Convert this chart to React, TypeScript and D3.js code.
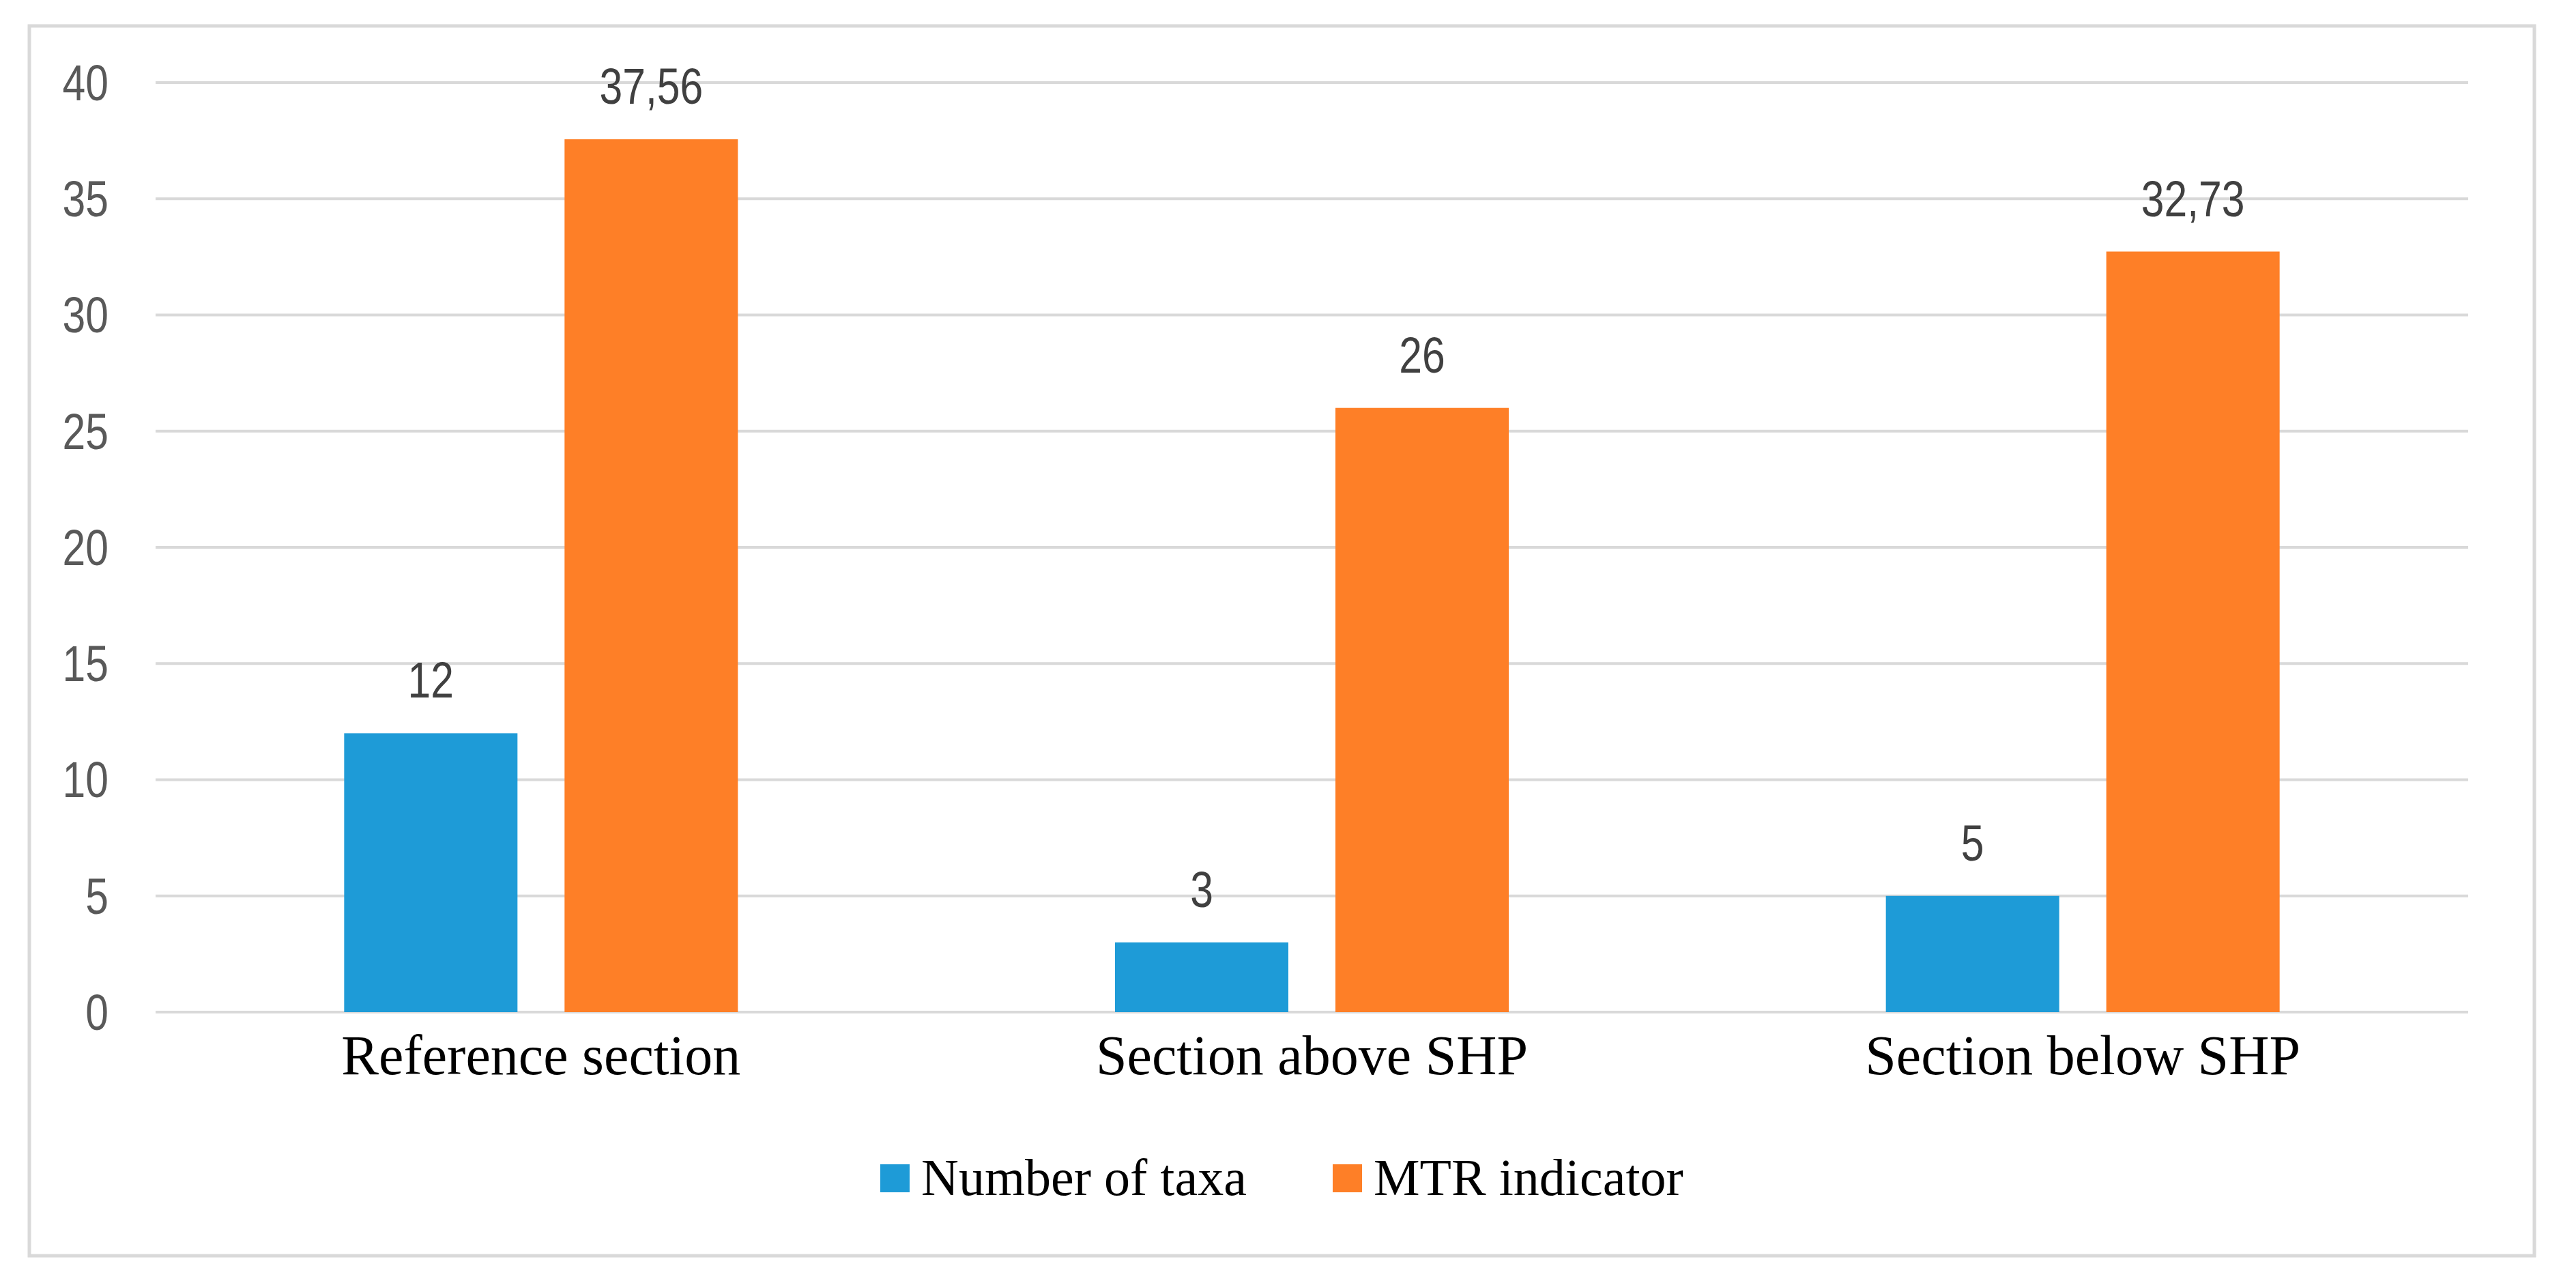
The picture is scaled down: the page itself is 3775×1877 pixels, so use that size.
import React from 'react'
import * as d3 from 'd3'

const categories = ['Reference section', 'Section above SHP', 'Section below SHP']
const seriesNames = ['Number of taxa', 'MTR indicator']
const numberOfTaxa = [12, 3, 5]
const mtrIndicator = [37.56, 26, 32.73]
const yTicks = [0, 5, 10, 15, 20, 25, 30, 35, 40]
const seriesColors = ['#1E9BD7', '#FE7F27']

const W = 3775
const H = 1877
const plot = { left: 228, right: 3617, top: 121, bottom: 1483 }
const groupWidth = 577

const serif = "'Liberation Serif', 'Times New Roman', serif"
const sans = "'Liberation Sans Narrow', 'Liberation Sans', Arial, sans-serif"
// the numbers in the source use a narrow face, squeeze them a bit
const squeeze = 0.82

const fmt = (v: number) => String(v).replace('.', ',')

const App = () => {
	const series = [numberOfTaxa, mtrIndicator]

	const x0 = d3.scaleBand<string>().domain(categories).range([plot.left, plot.right])
	const x1 = d3
		.scaleBand<string>()
		.domain(seriesNames)
		.range([0, groupWidth])
		.paddingInner(0.2136)
	const y = d3.scaleLinear().domain([0, 40]).range([plot.bottom, plot.top])
	const inset = (x0.bandwidth() - groupWidth) / 2

	// legend positions
	const legendX = [1290, 1953]
	const legendY = 1706

	return (
		<svg
			width={W}
			height={H}
			style={{ position: 'absolute', left: 0, top: 0, background: '#fff' }}
		>
			<rect x={0} y={0} width={W} height={H} fill="#fff" />
			{/* frame */}
			<rect x={43} y={38} width={3714 - 43} height={1840 - 38} fill="none" stroke="#d9d9d9" strokeWidth={5} />

			{/* grid + y labels */}
			<g>
				{yTicks.map((t) => (
					<g key={t}>
						<line x1={plot.left} x2={plot.right} y1={y(t)} y2={y(t)} stroke="#d9d9d9" strokeWidth={4} />
						<g transform={`translate(159,${y(t)}) scale(${squeeze},1)`}>
							<text dy="0.35em" textAnchor="end" fontFamily={sans} fontSize={74} fill="#595959">
								{t}
							</text>
						</g>
					</g>
				))}
			</g>

			{/* bars */}
			<g>
				{categories.map((c, i) => (
					<g key={c} transform={`translate(${(x0(c) || 0) + inset},0)`}>
						{seriesNames.map((s, j) => {
							const v = series[j][i]
							const bx = x1(s) || 0
							return (
								<g key={s}>
									<rect
										x={bx}
										y={y(v)}
										width={x1.bandwidth()}
										height={y(0) - y(v)}
										fill={seriesColors[j]}
									/>
									<g transform={`translate(${bx + x1.bandwidth() / 2},${y(v) - 52}) scale(${squeeze},1)`}>
										<text textAnchor="middle" fontFamily={sans} fontSize={74} fill="#404040">
											{fmt(v)}
										</text>
									</g>
								</g>
							)
						})}
					</g>
				))}
			</g>

			{/* category labels */}
			<g>
				{categories.map((c) => (
					<text
						key={c}
						x={(x0(c) || 0) + x0.bandwidth() / 2}
						y={1574}
						textAnchor="middle"
						fontFamily={serif}
						fontSize={82}
						fill="#000"
					>
						{c}
					</text>
				))}
			</g>

			{/* legend */}
			<g>
				{seriesNames.map((s, j) => (
					<g key={s} transform={`translate(${legendX[j]},${legendY})`}>
						<rect x={0} y={0} width={43} height={41} fill={seriesColors[j]} />
						<text x={60} y={45} fontFamily={serif} fontSize={76} fill="#000">
							{s}
						</text>
					</g>
				))}
			</g>
		</svg>
	)
}

export default App
